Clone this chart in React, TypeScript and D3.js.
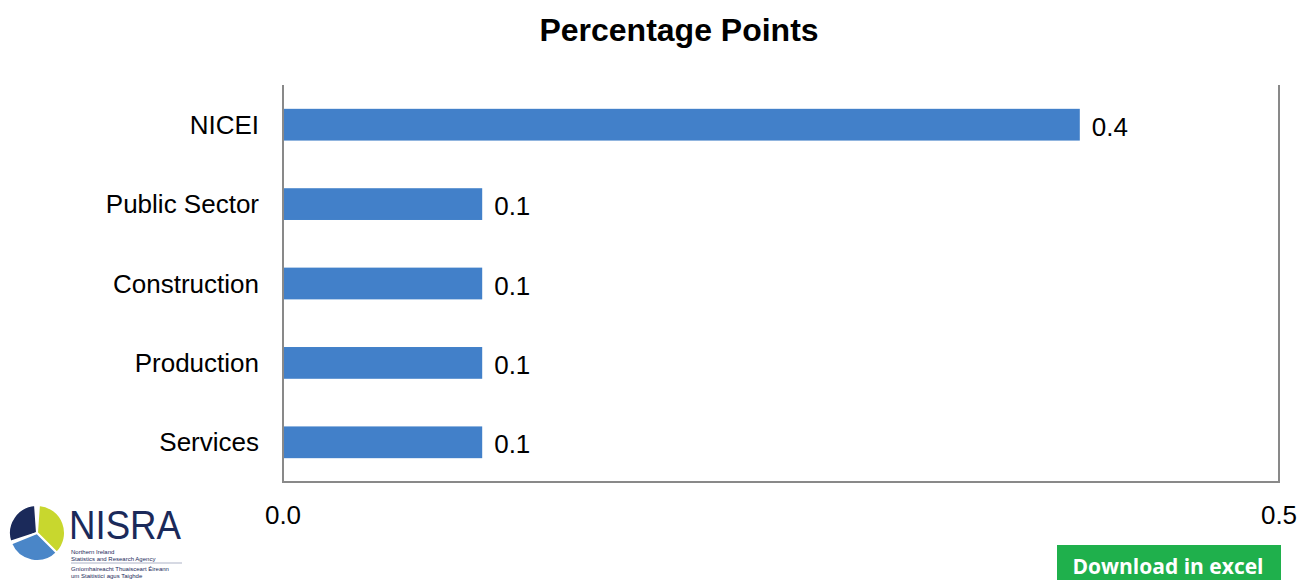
import React from 'react'
import * as d3 from 'd3'

const categories = ['NICEI', 'Public Sector', 'Construction', 'Production', 'Services']
const values = [0.4, 0.1, 0.1, 0.1, 0.1]
const labels = ['0.4', '0.1', '0.1', '0.1', '0.1']
const ticks = [0, 0.5]

const W = 1299
const H = 580
const font = 'Liberation Sans, Arial, sans-serif'

export default function App () {
  const x = d3.scaleLinear().domain([0, 0.5]).range([283, 1279])
  const y = d3.scaleBand<string>().domain(categories).range([85, 482])
    .paddingInner(0.6).paddingOuter(0.3)

  const logoArc = d3.arc<any>().innerRadius(0).outerRadius(28)
  const deg = (a: number) => a * Math.PI / 180
  const logoParts = [
    { s: -108, e: -4, c: '#1b2a5a' },
    { s: 4, e: 135, c: '#c8d72e' },
    { s: 135, e: 248, c: '#4a86c8' }
  ]
  const small = ['Northern Ireland', 'Statistics and Research Agency']
  const smallIrish = ['Gníomhaireacht Thuaisceart Éireann', 'um Staitisticí agus Taighde']

  return (
    <svg width={W} height={H} style={{ position: 'absolute', left: 0, top: 0 }}>
      <rect width={W} height={H} fill='#fff' />
      <text x={679} y={41} textAnchor='middle' fontFamily={font} fontWeight='bold' fontSize={32}>
        Percentage Points
      </text>

      {categories.map((c, i) => (
        <g key={c}>
          <rect x={x(0)} y={y(c)} width={x(values[i]) - x(0)} height={y.bandwidth()} fill='#4280c9' />
          <text x={259} y={(y(c) as number) + y.bandwidth() / 2} dy='0.35em' textAnchor='end'
            fontFamily={font} fontSize={26}>{c}</text>
          <text x={x(values[i]) + 12} y={(y(c) as number) + y.bandwidth() / 2 + 2} dy='0.35em'
            fontFamily={font} fontSize={26}>{labels[i]}</text>
        </g>
      ))}

      <path d={`M${x(0)},85V482H${x(0.5)}V85`} fill='none' stroke='#898989' strokeWidth={2} />
      {ticks.map(t => (
        <text key={t} x={x(t)} y={524} textAnchor='middle' fontFamily={font} fontSize={26}>
          {d3.format('.1f')(t)}
        </text>
      ))}

      <g transform='translate(37,533)'>
        {logoParts.map((p, i) => (
          <path key={i} d={logoArc({ startAngle: deg(p.s), endAngle: deg(p.e) }) as string}
            fill={p.c} stroke='#fff' strokeWidth={2} />
        ))}
      </g>
      <text x={69} y={539} fontFamily={font} fontSize={40} fill='#1b2a5a'
        textLength={112} lengthAdjust='spacingAndGlyphs'>NISRA</text>
      {small.map((s, i) => (
        <text key={s} x={71} y={554 + i * 7} fontFamily={font} fontSize={6}
          fill='#1b2a5a'>{s}</text>
      ))}
      <line x1={71} y1={563} x2={182} y2={563} stroke='#8a93b0' strokeWidth={0.7} />
      {smallIrish.map((s, i) => (
        <text key={s} x={71} y={570.5 + i * 7} fontFamily={font} fontSize={6}
          fill='#1b2a5a'>{s}</text>
      ))}

      <rect x={1057} y={545} width={224} height={40} fill='#1fb04c' />
      <text x={1168} y={574} textAnchor='middle' fontFamily='Open Sans, sans-serif' fontWeight='bold'
        fontSize={21} fill='#fff'>Download in excel</text>
    </svg>
  )
}
